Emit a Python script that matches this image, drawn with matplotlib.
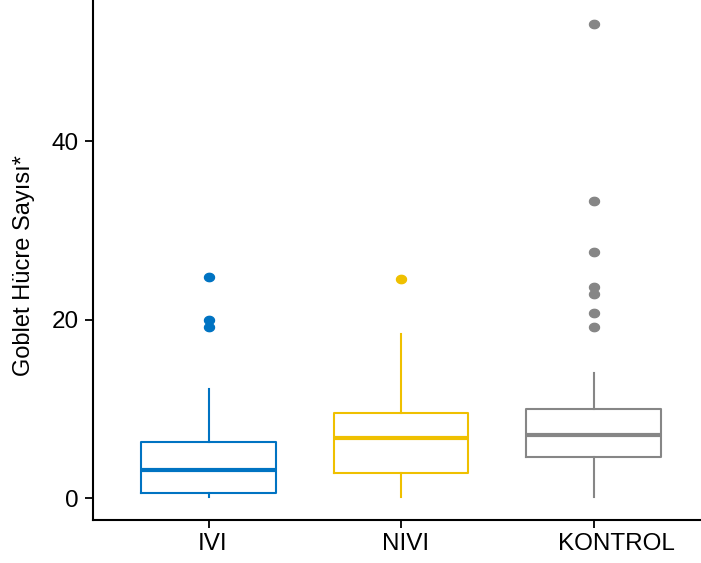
import numpy as np
import matplotlib.pyplot as plt
from matplotlib.path import Path
from matplotlib.transforms import ScaledTranslation

plt.rcParams['font.family'] = ['Liberation Sans', 'DejaVu Sans']

groups = ['IVI', 'NIVI', 'KONTROL']
colors = ['#0073C2', '#EFC000', '#868686']

# box summary per group
q1 = [0.53, 2.84, 4.63]
med = [3.14, 6.69, 7.06]
q3 = [6.31, 9.49, 9.94]
whislo = [0.08, 0.08, 0.08]
whishi = [12.2, 18.38, 13.97]
outliers = [
    [24.8, 19.94, 19.2],
    [24.6],
    [53.07, 33.28, 27.6, 23.6, 22.86, 20.7, 19.2],
]

# slightly wide dot for the outliers
t = np.linspace(0, 2 * np.pi, 40)
dot = Path(np.column_stack([1.2 * np.cos(t), np.sin(t)]), closed=True)

fig = plt.figure(figsize=(7.01, 5.63), dpi=100)
ax = fig.add_axes([93 / 701, 43 / 563, 616 / 701, 520 / 563])

for i, g in enumerate(groups):
    stats = [dict(label=g, q1=q1[i], med=med[i], q3=q3[i],
                  whislo=whislo[i], whishi=whishi[i], fliers=outliers[i])]
    c = colors[i]
    ax.bxp(stats, positions=[i + 1], widths=0.7, showcaps=False,
           boxprops=dict(color=c, linewidth=1.5),
           whiskerprops=dict(color=c, linewidth=1.5),
           medianprops=dict(color=c, linewidth=3),
           flierprops=dict(marker=dot, markerfacecolor=c, markeredgecolor=c,
                           markersize=7.2, linestyle='none'))

ax.set_xlim(0.4, 3.6)
ax.set_ylim(-2.45, 55.8)
ax.set_xticks([1, 2, 3])
ax.set_xticklabels(groups)
ax.set_yticks([0, 20, 40])
ax.tick_params(axis='both', labelsize=17.5, length=6, width=1.3, colors='black')
ax.tick_params(axis='x', pad=3)
ax.tick_params(axis='y', pad=4)

# nudge the category labels a little to the right
for lab, dx in zip(ax.get_xticklabels(), [4, 5, 23]):
    lab.set_transform(lab.get_transform() + ScaledTranslation(dx / 100, 0, fig.dpi_scale_trans))

ax.set_ylabel('Goblet Hücre Sayısı*', fontsize=17, va='center')
ax.yaxis.set_label_coords((24 - 93) / 616, 0.49)

for side in ['top', 'right']:
    ax.spines[side].set_visible(False)
for side in ['left', 'bottom']:
    ax.spines[side].set_linewidth(1.5)

fig.savefig('out.png', dpi=100)
